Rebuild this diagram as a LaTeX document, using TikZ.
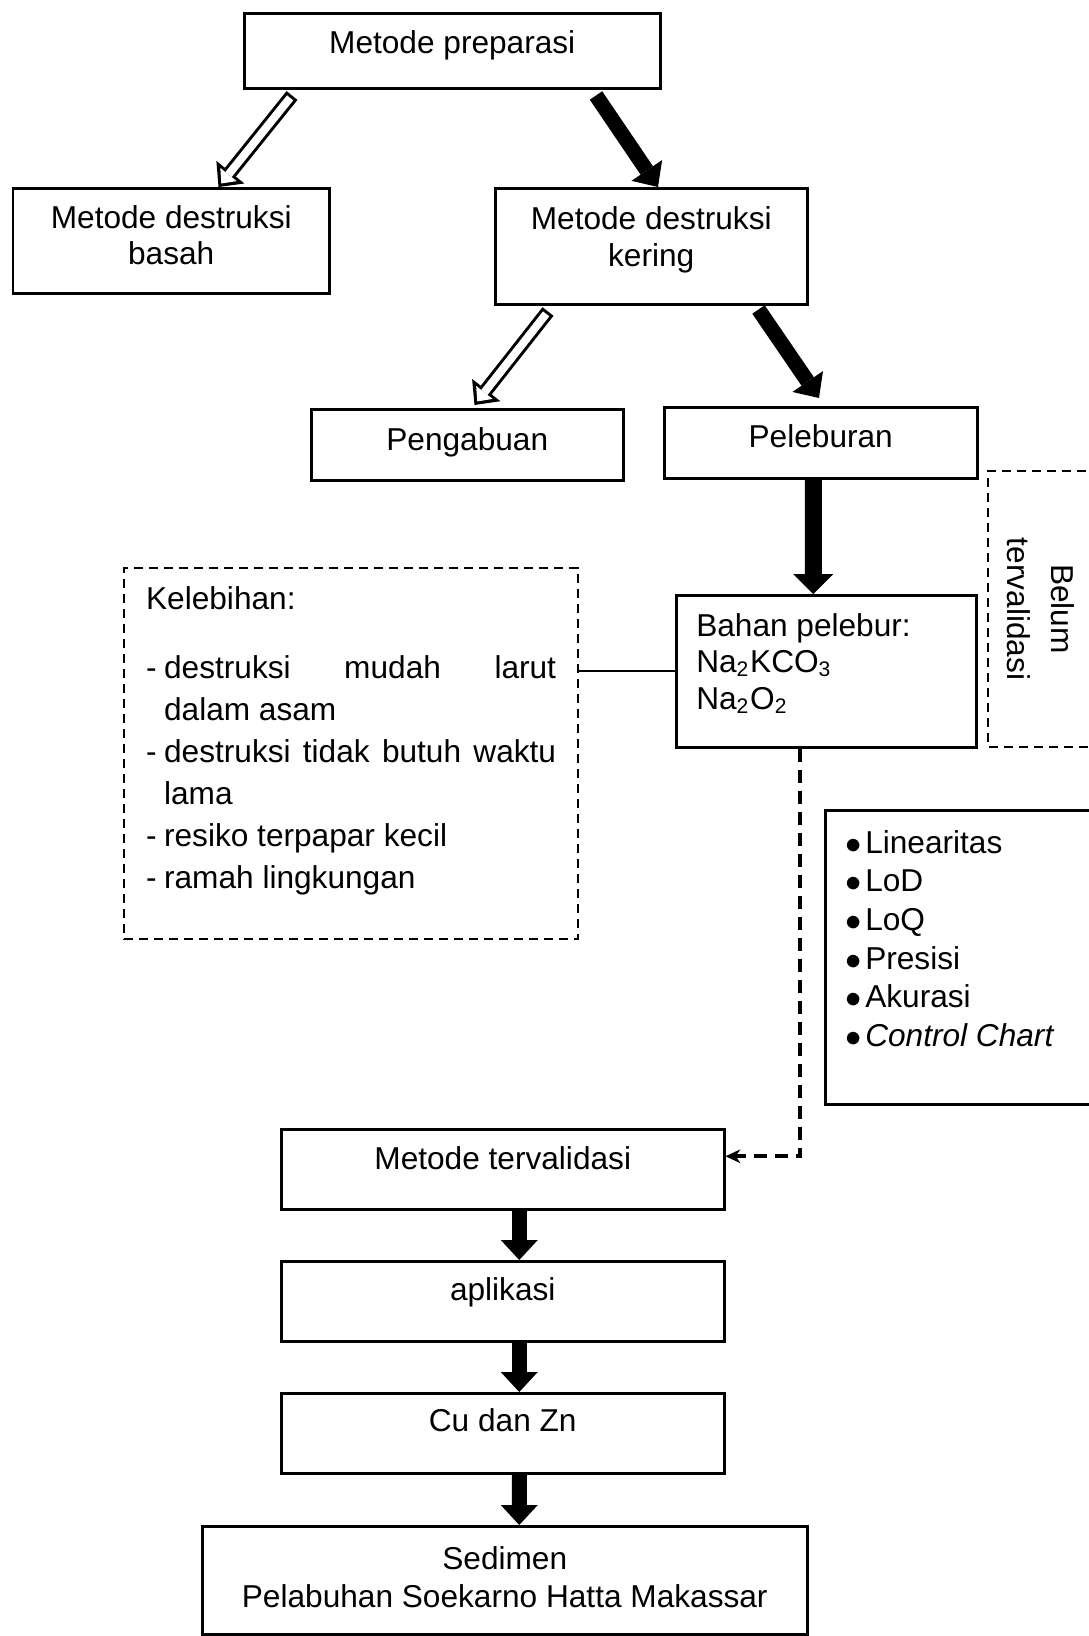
\documentclass[tikz,border=0pt]{standalone}
\usepackage{fontspec}
\setmainfont{Liberation Sans}
\usepackage{tikz}
\usetikzlibrary{arrows.meta}
\tikzset{>=Stealth}
\tikzset{
  box/.style={draw, line width=0.025cm, inner sep=0pt, anchor=north west, font=\fontsize{9}{10.3}\selectfont},
  dbox/.style={box, line width=0.022cm, dash pattern=on 0.09cm off 0.06cm},
  fat/.style={line width=0.15cm, -{Triangle[length=0.20cm,width=0.37cm,line width=0pt]}},
  link/.style={line width=0.04cm, dash pattern=on 0.13cm off 0.08cm, -{Stealth[length=0.15cm,width=0.14cm,line width=0pt]}}
}
% text set at the top of a box: [first baseline] width, height, text
\newcommand{\topbox}[4][0.40cm]{\parbox[c][#3][t]{#2}{\rule{0pt}{#1}#4}}
\newcommand{\dotitem}{\makebox[0.20cm][l]{$\bullet$}}
\newcommand{\dashitem}{\makebox[0.18cm][l]{-}}
% outlined block arrow
\newcommand{\hollowarrow}[2]{%
  \draw[line width=0.14cm, -{Triangle[length=0.19cm,width=0.36cm,line width=0pt]}] #1 -- #2;
  \draw[white, line width=0.08cm, shorten <=0.03cm, shorten >=0.045cm,
    -{Triangle[length=0.115cm,width=0.21cm,line width=0pt]}] #1 -- #2;}

\begin{document}
\begin{tikzpicture}
\useasboundingbox (0,0) rectangle (10.89,-16.36);
\clip (0,0) rectangle (10.89,-16.36);
% upper part
\node[box] (prep) at (2.43,-0.12) {\topbox{4.16cm}{0.75cm}{\centering Metode preparasi}};
\node[box, font=\fontsize{9}{10.25}\selectfont] (basah) at (0.12,-1.87)
  {\topbox{3.16cm}{1.05cm}{\centering Metode destruksi\\basah}};
\node[box, font=\fontsize{9}{10.5}\selectfont] (kering) at (4.94,-1.87)
  {\topbox[0.41cm]{3.12cm}{1.16cm}{\centering Metode destruksi\\kering}};
\node[box] (abu) at (3.10,-4.08) {\topbox[0.41cm]{3.12cm}{0.71cm}{\centering Pengabuan}};
\node[box] (lebur) at (6.63,-4.06) {\topbox{3.13cm}{0.71cm}{\centering Peleburan}};
\node[dbox, anchor=center, rotate=-90, font=\fontsize{9}{12.5}\selectfont] (belum) at (10.49,-6.09)
  {\topbox[0.59cm]{2.76cm}{1.22cm}{\centering Belum\\tervalidasi}};
% middle part
\node[dbox, font=\fontsize{9}{11.95}\selectfont] (lebih) at (1.23,-5.67)
  {\topbox[0.41cm]{4.54cm}{3.71cm}{\leftskip=0.22cm Kelebihan:\\[0.27cm]
   \dashitem\makebox[3.92cm][s]{destruksi mudah larut}\\
   \hspace*{0.18cm}dalam asam\\
   \dashitem\makebox[3.92cm][s]{destruksi tidak butuh waktu}\\
   \hspace*{0.18cm}lama\\
   \dashitem resiko terpapar kecil\\
   \dashitem ramah lingkungan}};
\node[box, font=\fontsize{9}{10.4}\selectfont] (bahan) at (6.75,-5.94)
  {\topbox[0.41cm]{3.00cm}{1.52cm}{\leftskip=0.20cm Bahan pelebur:\\
   Na\textsubscript{2}KCO\textsubscript{3}\\Na\textsubscript{2}O\textsubscript{2}}};
\node[box, font=\fontsize{9}{11}\selectfont] (uji) at (8.24,-8.09)
  {\topbox[0.43cm]{2.86cm}{2.94cm}{\leftskip=0.20cm \dotitem Linearitas\\
   \dotitem LoD\\ \dotitem LoQ\\ \dotitem Presisi\\ \dotitem Akurasi\\
   \dotitem\textit{Control Chart}}};
% lower part
\node[box] (valid) at (2.80,-11.28) {\topbox{4.43cm}{0.80cm}{\centering Metode tervalidasi}};
\node[box] (apli) at (2.80,-12.60) {\topbox[0.39cm]{4.43cm}{0.80cm}{\centering aplikasi}};
\node[box] (logam) at (2.80,-13.92) {\topbox[0.38cm]{4.43cm}{0.80cm}{\centering Cu dan Zn}};
\node[box, font=\fontsize{9}{10.8}\selectfont] (sedimen) at (2.01,-15.25)
  {\topbox[0.43cm]{6.05cm}{1.08cm}{\centering Sedimen\\Pelabuhan Soekarno Hatta Makassar}};
% arrows
\hollowarrow{([xshift=0.49cm,yshift=-0.06cm]prep.south west)}{([xshift=-1.12cm]basah.north east)}
\draw[fat] ([xshift=3.53cm,yshift=-0.06cm]prep.south west) -- ([xshift=1.64cm]kering.north west);
\hollowarrow{([xshift=0.54cm,yshift=-0.06cm]kering.south west)}{([xshift=-1.50cm,yshift=0.03cm]abu.north east)}
\draw[fat] ([xshift=-0.50cm,yshift=-0.04cm]kering.south east) -- ([xshift=1.56cm,yshift=0.08cm]lebur.north west);
\draw[fat, line width=0.17cm, -{Triangle[length=0.20cm,width=0.40cm,line width=0pt]}]
  ([xshift=-0.075cm]lebur.south) -- ([xshift=-0.13cm]bahan.north);
\draw[line width=0.018cm] (lebih.east |- bahan.west) -- (bahan.west);
\draw[link] ([xshift=-0.26cm]bahan.south) |- ([yshift=0.13cm]valid.east);
\draw[fat] ([xshift=0.165cm]valid.south) -- ([xshift=0.165cm]apli.north);
\draw[fat] ([xshift=0.165cm]apli.south) -- ([xshift=0.165cm]logam.north);
\draw[fat] ([xshift=0.165cm]logam.south) -- ([xshift=0.145cm]sedimen.north);
\end{tikzpicture}
\end{document}
